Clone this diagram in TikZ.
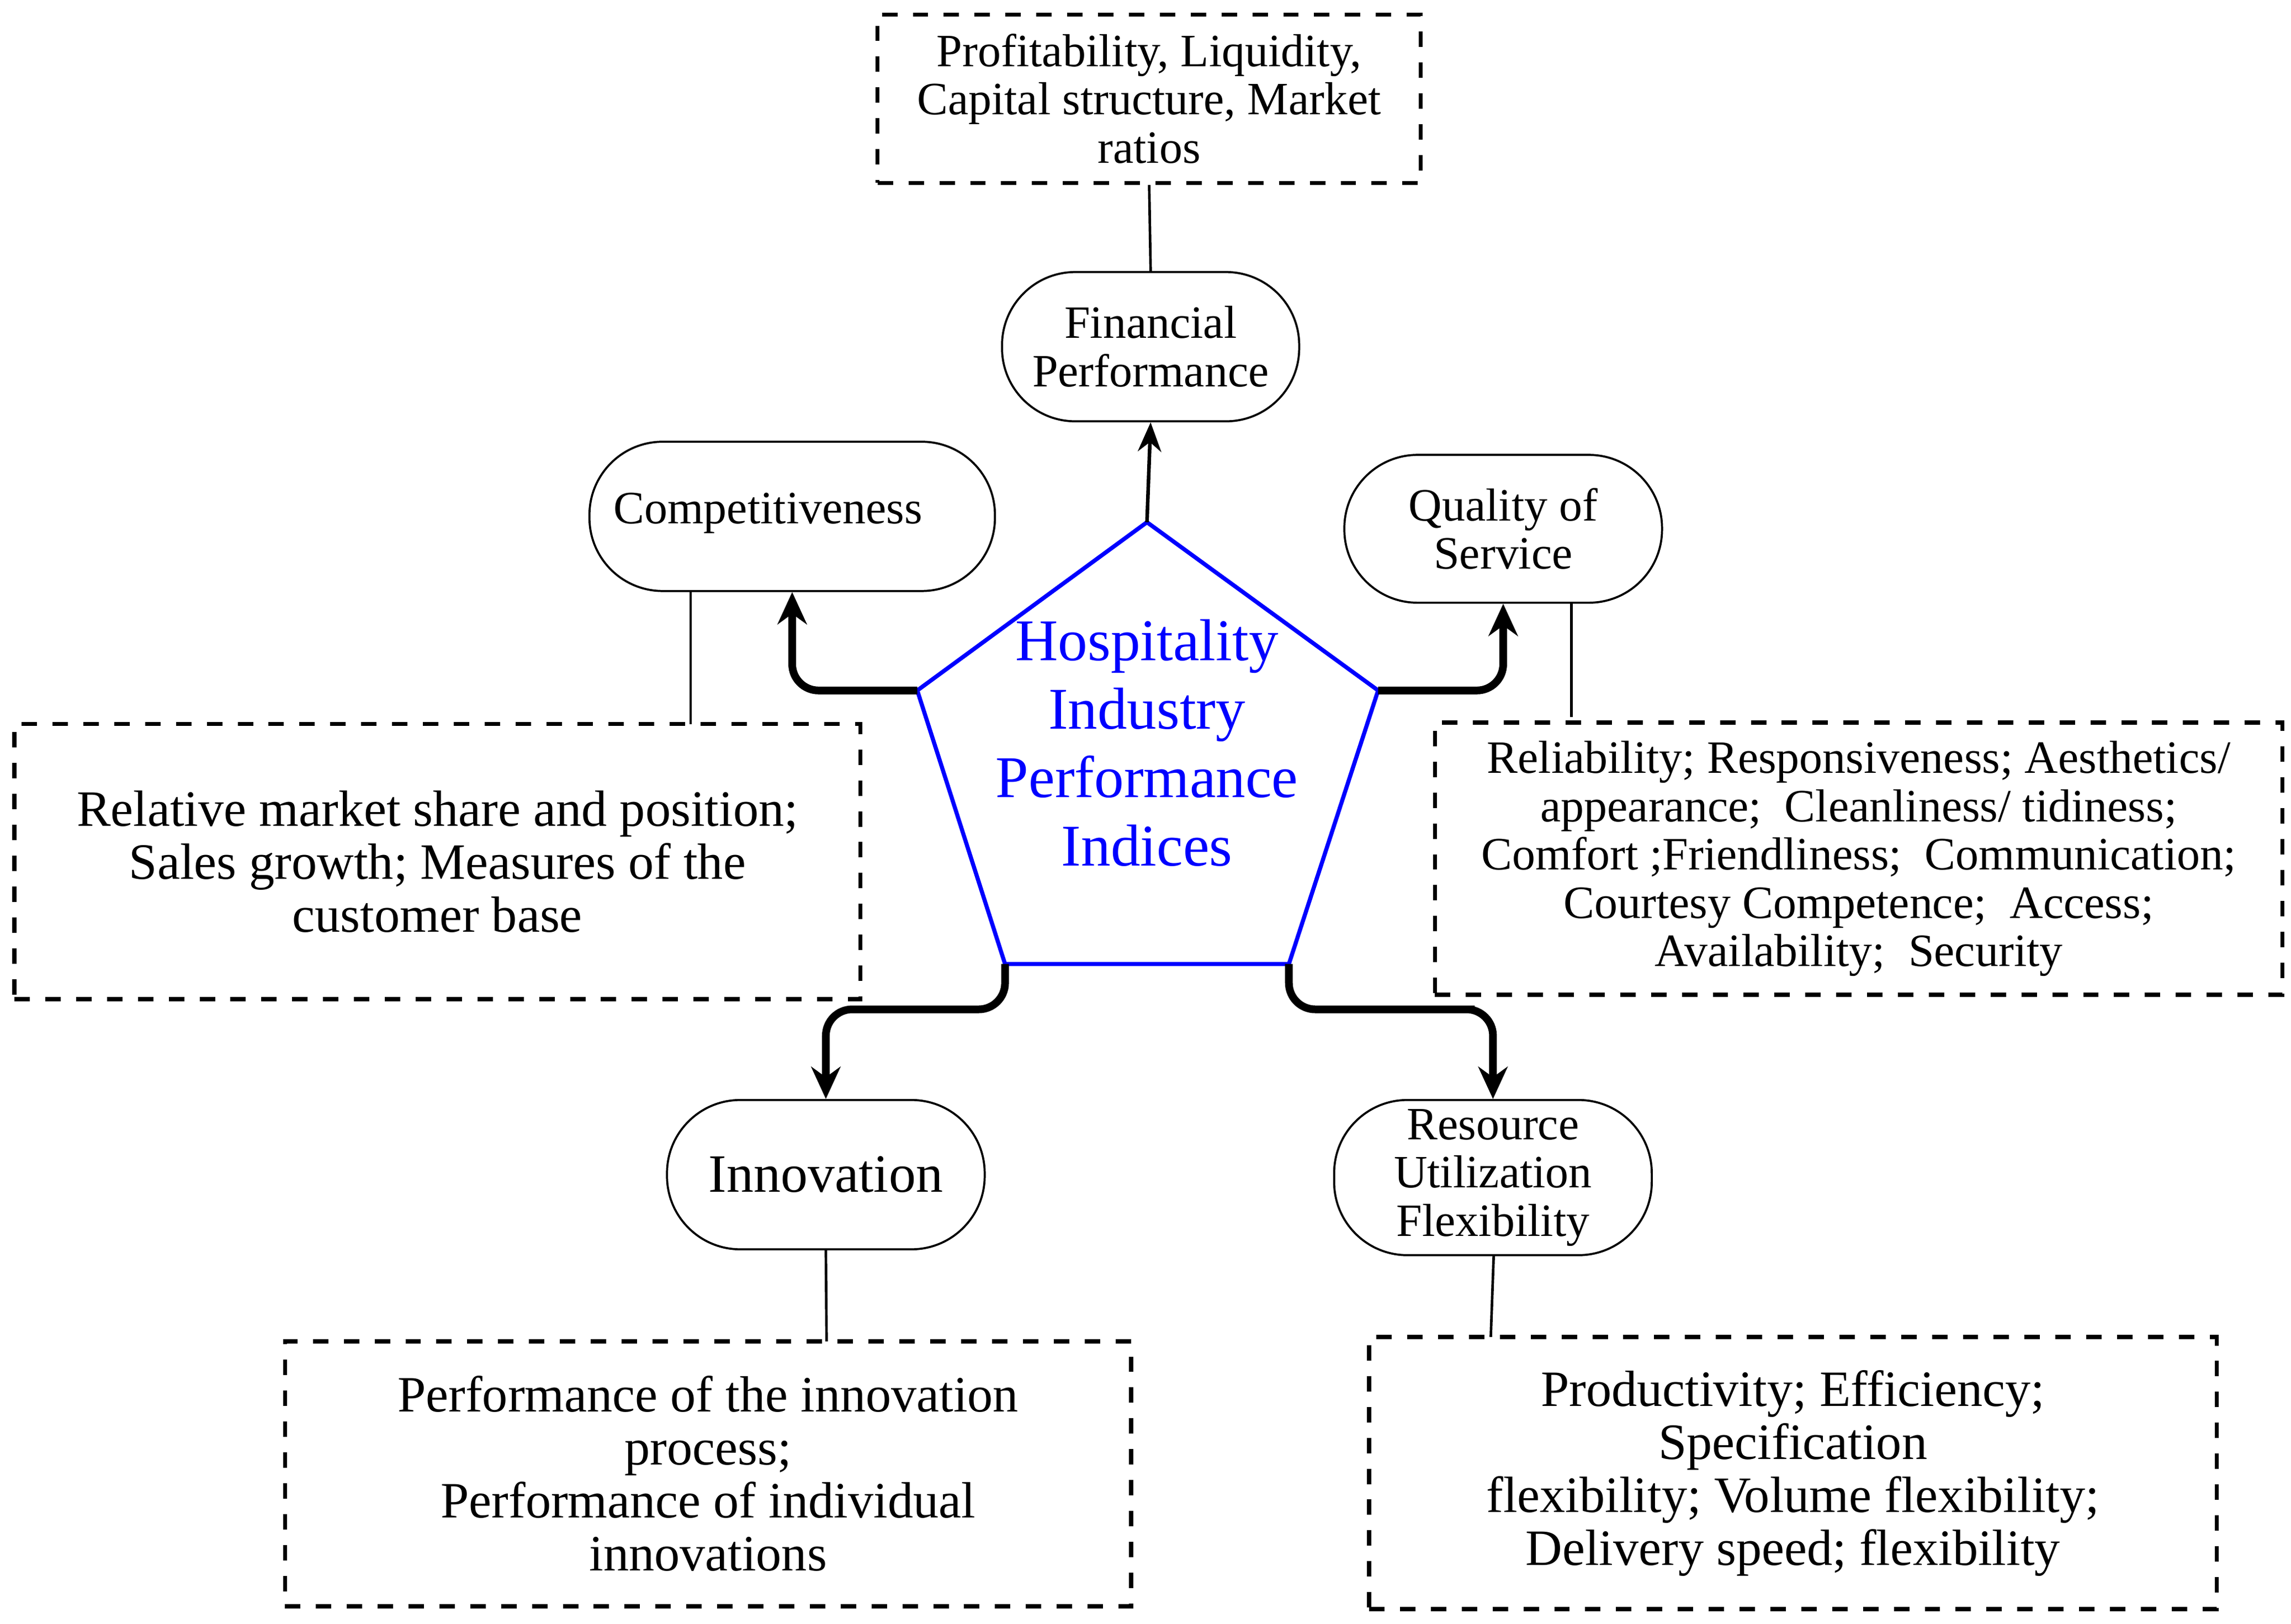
\documentclass[tikz,border=0pt]{standalone}
\usepackage{fontspec}
\setmainfont{Liberation Serif}
\begin{document}
\begin{tikzpicture}[x=0.01cm,y=-0.01cm,
  dbox/.style={draw,dashed,thick,align=center,inner sep=0pt},
  rbox/.style={draw,rounded corners=0.5cm,align=center,inner sep=0pt},
  thin/.style={draw,line width=0.5pt},
  bigarr/.style={draw,line width=1.5pt,-{Stealth[length=0.22cm,width=0.2cm]},rounded corners=0.18cm},
  txt/.style={font=\fontsize{9}{9.4}\selectfont}]
\usetikzlibrary{arrows.meta}
\useasboundingbox (0,0) rectangle (1566,1110);

% boxes
\node[dbox,minimum width=3.71cm,minimum height=1.15cm,txt] (fin) at (785.5,67.5)
  {Profitability, Liquidity,\\Capital structure, Market\\ratios};
\node[rbox,minimum width=2.03cm,minimum height=1.02cm,txt] (finp) at (786.5,237)
  {Financial\\Performance};
\node[rbox,minimum width=2.77cm,minimum height=1.02cm,txt] (comp) at (541.5,353)
  {};
\node[txt] (compt) at (525,351) {Competitiveness};
\node[rbox,minimum width=2.17cm,minimum height=1.01cm,txt] (qual) at (1027.5,361.5)
  {Quality of\\Service};
\node[dbox,minimum width=5.78cm,minimum height=1.88cm,font=\fontsize{9.9}{10.3}\selectfont] (compd) at (299,589)
  {Relative market share and position;\\Sales growth; Measures of the\\customer base};
\node[dbox,minimum width=5.79cm,minimum height=1.86cm,txt] (quald) at (1270.5,587)
  {Reliability; Responsiveness; Aesthetics/\\appearance;\ \ Cleanliness/ tidiness;\\Comfort ;Friendliness;\ \ Communication;\\Courtesy Competence;\ \ Access;\\Availability;\ \ Security};
\node[rbox,minimum width=2.17cm,minimum height=1.02cm,font=\fontsize{10.5}{11}\selectfont] (inno) at (564.5,803)
  {Innovation};
\node[rbox,minimum width=2.17cm,minimum height=1.06cm,txt] (res) at (1020.5,805)
  {Resource\\Utilization\\Flexibility};
\node[dbox,minimum width=5.78cm,minimum height=1.81cm,font=\fontsize{9.9}{10.3}\selectfont] (innod) at (484,1007.5)
  {Performance of the innovation\\process;\\Performance of individual\\innovations};
\node[dbox,minimum width=5.79cm,minimum height=1.86cm,font=\fontsize{9.9}{10.3}\selectfont] (resd) at (1225.5,1007)
  {Productivity; Efficiency;\\Specification\\flexibility; Volume flexibility;\\Delivery speed; flexibility};

% pentagon
\coordinate (pt) at (784,357);
\coordinate (pr) at (942,472);
\coordinate (pbr) at (881,659);
\coordinate (pbl) at (687,659);
\coordinate (pl) at (627,472);
\draw[blue,line width=0.8pt] (pt) -- (pr) -- (pbr) -- (pbl) -- (pl) -- cycle;
\node[blue,align=center,font=\fontsize{11.5}{13.3}\selectfont] (hip) at (784,508)
  {Hospitality\\Industry\\Performance\\Indices};

% connectors
\draw[line width=0.7pt,-{Stealth[length=0.2cm,width=0.16cm]}] (pt) -- (finp.south);
\draw[thin] (finp.north) -- (fin.south);
\draw[bigarr] (pl) -| (comp.south);
\draw[bigarr] (pr) -| (qual.south);
\draw[bigarr] (pbl) |- (600,690) -| (inno.north);
\draw[bigarr] (pbr) |- (990,690) -| (res.north);
\draw[thin] (472,404) -- (472,495);
\draw[thin] (1074,412) -- (1074,490);
\draw[thin] (inno.south) -- (565,917);
\draw[thin] (1021,858) -- (1019,914);
\end{tikzpicture}
\end{document}
